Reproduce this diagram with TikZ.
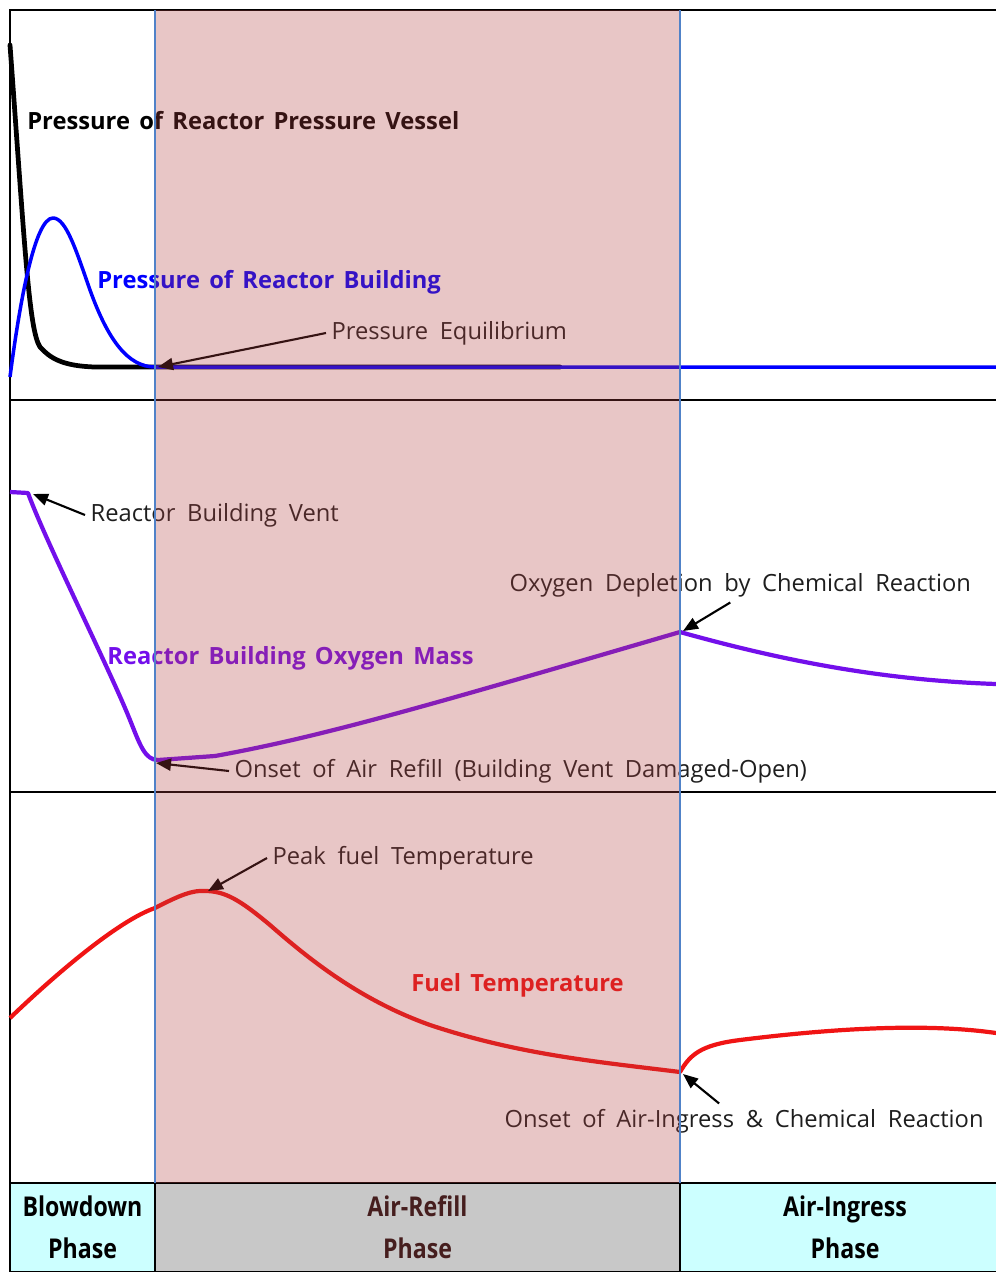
\documentclass[tikz,border=0pt]{standalone}
\usepackage{fontspec}
\setmainfont{Open Sans}[WordSpace=1.9, BoldFeatures={WordSpace=1.5}]
\newfontfamily\phasefont[FakeStretch=0.85]{Open Sans}
\usepackage{tikz}
\usetikzlibrary{arrows.meta,positioning}
\definecolor{rbblue}{RGB}{0,0,255}
\definecolor{oxpurple}{RGB}{115,15,235}
\definecolor{fuelred}{RGB}{240,20,20}
\definecolor{refillshade}{RGB}{178,65,65}
\definecolor{phaseline}{RGB}{80,130,200}
\definecolor{ingresscyan}{RGB}{204,255,255}
\definecolor{refillgray}{RGB}{200,200,200}
\definecolor{darkbrown}{RGB}{70,30,30}
\definecolor{notegray}{RGB}{30,30,30}
\tikzset{
  curve/.style={line width=2.4pt, line join=round},
  frameline/.style={line width=1.4pt, black},
  note/.style={font=\fontsize{13.5}{16}\selectfont, text=notegray, inner sep=3pt},
  title/.style={font=\fontsize{13.5}{16}\selectfont\bfseries, inner sep=0pt},
  callout/.style={-{Triangle[length=3mm,width=2.4mm]}, line width=1.2pt, black},
  phasebox/.style={rectangle, draw=black, line width=1.4pt, align=center,
                   minimum height=1.78cm, inner sep=0pt,
                   font=\phasefont\fontsize{15.5}{24}\selectfont\bfseries},
}
\begin{document}
\begin{tikzpicture}[x=0.02cm, y=-0.02cm]
  \useasboundingbox (0,0) rectangle (996,1272);
  % panel frame
  \draw[frameline] (996,10) -- (10,10) -- (10,1272);
  \draw[frameline] (10,400) -- (996,400);
  \draw[frameline] (10,792) -- (996,792);
  % phase boxes
  \node[phasebox, fill=ingresscyan, minimum width=2.9cm] (blow) at (82.5,1227.5) {Blowdown\\Phase};
  \node[phasebox, fill=refillgray, minimum width=10.5cm, text=darkbrown] (refill) at (417.5,1227.5) {Air-Refill\\Phase};
  \node[phasebox, fill=ingresscyan, minimum width=6.6cm, text=black] (ingress) at (845,1227.5) {Air-Ingress\\Phase};

  % pressure panel
  \draw[curve, line width=2.7pt, line cap=round] (10,45) .. controls (25,250) and (29,330) .. (40,347)
        .. controls (50,358) and (62,366) .. (95,367) -- (560,367);
  \draw[curve, rbblue, line width=2pt] (10,377) .. controls (20,300) and (35,218) .. (53,218)
        .. controls (66,218) and (76,250) .. (90,290) .. controls (108,340) and (128,367) .. (155,367) -- (996,367);
  \node[title, anchor=west] (rpvLbl) at (27,121) {Pressure of Reactor Pressure Vessel};
  \node[title, anchor=west, text=rbblue] (rbLbl) at (97,282) {Pressure of Reactor Building};
  \node[note, anchor=west] (eqLbl) at (326,333) {Pressure Equilibrium};
  \coordinate (eqPt) at (158,367);
  \draw[callout] (eqLbl.west) -- (eqPt);

  % oxygen panel
  \draw[curve, oxpurple] (10,492) -- (28,493) .. controls (45,540) and (110,670) .. (130,720)
        .. controls (140,745) and (145,760) .. (158,760) -- (215,756)
        .. controls (320,737) and (420,708) .. (680,632)
        .. controls (780,660) and (880,680) .. (996,684);
  \node[title, anchor=west, text=oxpurple] (oxLbl) at (107,658) {Reactor Building Oxygen Mass};
  \node[note, anchor=west] (ventLbl) at (85,515) {Reactor Building Vent};
  \coordinate (ventPt) at (33,494);
  \draw[callout] (ventLbl.west) -- (ventPt);
  \node[note, anchor=west] (depLbl) at (504,585) {Oxygen Depletion by Chemical Reaction};
  \coordinate (depPt) at (683,631);
  \draw[callout] ([xshift=-2mm]depLbl.south) -- (depPt);
  \node[note, anchor=west] (onsetLbl) at (229,771) {Onset of Air Refill (Building Vent Damaged-Open)};
  \coordinate (onsetPt) at (156,763);
  \draw[callout] (onsetLbl.west) -- (onsetPt);

  % fuel panel
  \draw[curve, fuelred] (10,1018) .. controls (60,970) and (120,920) .. (155,908)
        .. controls (180,895) and (193,890) .. (205,891)
        .. controls (225,891) and (240,900) .. (270,925)
        .. controls (310,960) and (360,1000) .. (430,1025)
        .. controls (520,1055) and (600,1062) .. (680,1072)
        .. controls (690,1055) and (700,1045) .. (740,1040)
        .. controls (820,1030) and (920,1022) .. (996,1033);
  \node[title, anchor=west, text=fuelred] (fuelLbl) at (411,985) {Fuel Temperature};
  \node[note, anchor=west] (peakLbl) at (267,858) {Peak fuel Temperature};
  \coordinate (peakPt) at (208,891);
  \draw[callout] (peakLbl.west) -- (peakPt);
  \node[note, anchor=west] (ingLbl) at (499,1121) {Onset of Air-Ingress \& Chemical Reaction};
  \coordinate (ingPt) at (683,1074);
  \draw[callout] ([xshift=-5mm]ingLbl.north) -- (ingPt);

  % air-refill shading and phase borders
  \fill[refillshade, opacity=0.3] (155,10) rectangle (680,1183);
  \draw[phaseline, line width=1.2pt] (155,10) -- (155,1183);
  \draw[phaseline, line width=1.2pt] (680,10) -- (680,1183);
\end{tikzpicture}
\end{document}
